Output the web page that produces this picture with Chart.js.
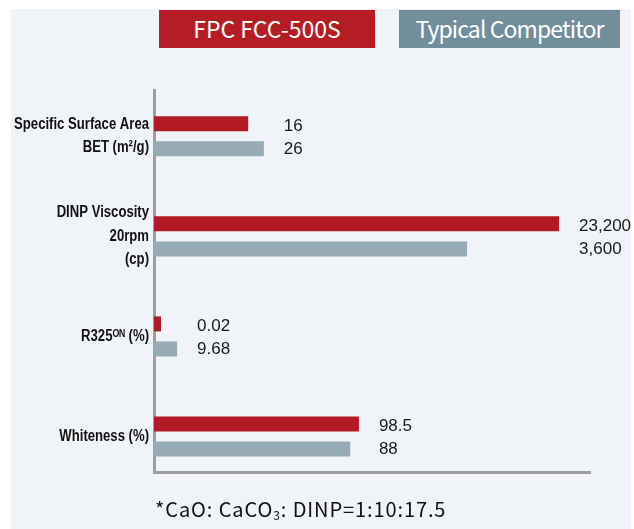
<!DOCTYPE html>
<html>
<head>
<meta charset="utf-8">
<script src="https://cdn.jsdelivr.net/npm/chart.js@4/dist/chart.umd.min.js"></script>
<style>
  html, body { margin: 0; padding: 0; background: #ffffff; width: 634px; height: 529px; overflow: hidden; }
  #panel { position: absolute; left: 11px; top: 9px; width: 620px; height: 520px; background: #f0f3f7; }
  #chart { position: absolute; left: 0; top: 0; }
  .leg { position: absolute; top: 10px; height: 38px; line-height: 37px; color: #ffffff; text-align: center;
         font-family: "Noto Sans CJK JP", "Noto Sans", sans-serif; font-size: 23px; }
  #leg1 { left: 159px; width: 216px; background: #b51c24; }
  #leg2 { left: 399px; width: 221px; background: #738e9b; letter-spacing: -0.9px; }
  #note { position: absolute; left: 155px; top: 494px; font-family: "Noto Sans CJK JP", "Noto Sans", sans-serif;
          font-size: 20px; color: #111111; white-space: nowrap; letter-spacing: 0.9px; }
  #note sub { font-size: 12px; vertical-align: -3px; }
</style>
</head>
<body>
<div id="panel"></div>
<div class="leg" id="leg1">FPC FCC-500S</div>
<div class="leg" id="leg2">Typical Competitor</div>
<canvas id="chart" width="634" height="529"></canvas>
<div id="note">*CaO: CaCO<sub>3</sub>: DINP=1:10:17.5</div>
<script>
// Category labels (multi-line)
const categories = [
  ["Specific Surface Area", "BET (m\u00B2/g)"],
  ["DINP Viscosity", "20rpm", "(cp)"],
  ["R325\u1D3C\u1D3A (%)"],
  ["Whiteness (%)"]
];
const seriesNames = ["FPC FCC-500S", "Typical Competitor"];
// Values printed next to the bars
const fpcValues = [16, 23200, 0.02, 98.5];
const competitorValues = [26, 3600, 9.68, 88];
// Bar lengths as drawn in the infographic (relative units, not to scale with the values)
const fpcBarLengths = [21.6, 92.9, 1.6, 47.0];
const competitorBarLengths = [25.2, 71.8, 5.3, 45.0];

const fmt = v => v.toLocaleString('en-US', { maximumFractionDigits: 2 });

const valueLabels = {
  id: 'valueLabels',
  afterDatasetsDraw(chart) {
    const ctx = chart.ctx;
    const m0 = chart.getDatasetMeta(0), m1 = chart.getDatasetMeta(1);
    ctx.save();
    ctx.font = '17px "Liberation Sans", Arial, sans-serif';
    ctx.fillStyle = '#1a1a1a';
    ctx.textAlign = 'left';
    ctx.textBaseline = 'middle';
    for (let i = 0; i < categories.length; i++) {
      const b0 = m0.data[i], b1 = m1.data[i];
      const x = Math.max(b0.x, b1.x) + 20;
      ctx.fillText(fmt(fpcValues[i]), x, b0.y + 2);
      ctx.fillText(fmt(competitorValues[i]), x, b1.y);
    }
    ctx.restore();
  }
};

// Category labels drawn at the y scale's tick positions, in a condensed bold face
const condensedTicks = {
  id: 'condensedTicks',
  afterDraw(chart) {
    const ctx = chart.ctx;
    const ys = chart.scales.y;
    const lineH = 23.5;
    ctx.save();
    ctx.font = 'bold 16px "Liberation Sans", Arial, sans-serif';
    ctx.fillStyle = '#111111';
    ctx.textAlign = 'right';
    ctx.textBaseline = 'middle';
    const sx = 0.82;
    const xRight = ys.right - 5;
    ys.ticks.forEach((t, i) => {
      const lines = categories[t.value];
      const yc = ys.getPixelForTick(i);
      const y0 = yc - (lines.length - 1) * lineH / 2;
      lines.forEach((ln, j) => {
        ctx.save();
        ctx.translate(xRight, y0 + j * lineH);
        ctx.scale(sx, 1);
        ctx.fillText(ln, 0, 0);
        ctx.restore();
      });
    });
    ctx.restore();
  }
};

new Chart(document.getElementById('chart'), {
  type: 'bar',
  data: {
    datasets: [
      { label: seriesNames[0], data: fpcBarLengths.map((v, i) => ({ x: v, y: i })), backgroundColor: '#b21b23' },
      { label: seriesNames[1], data: competitorBarLengths.map((v, i) => ({ x: v, y: i })), backgroundColor: '#97abb6' }
    ]
  },
  options: {
    indexAxis: 'y',
    responsive: false,
    animation: false,
    devicePixelRatio: 1,
    categoryPercentage: 0.5,
    barPercentage: 0.6,
    layout: { padding: { left: 0, right: 44, top: 90, bottom: 57 } },
    plugins: { legend: { display: false }, tooltip: { enabled: false } },
    scales: {
      x: {
        type: 'linear', min: 0, max: 100,
        grid: { display: false, drawTicks: false },
        ticks: { display: false },
        border: { display: true, color: '#a09e9c', width: 3 },
        afterFit(scale) { scale.height = 0; }
      },
      y: {
        type: 'linear', reverse: true, min: -0.463, max: 3.355, offset: false,
        grid: { display: false, drawTicks: false, offset: false },
        border: { display: true, color: '#a09e9c', width: 3 },
        afterBuildTicks(scale) { scale.ticks = categories.map((c, i) => ({ value: i })); },
        afterFit(scale) { scale.width = 154; },
        ticks: {
          padding: 6,
          color: 'rgba(0,0,0,0)',
          font: { size: 15 },
          callback: (v) => categories[v].join(' ')
        }
      }
    }
  },
  plugins: [valueLabels, condensedTicks]
});
</script>
</body>
</html>
